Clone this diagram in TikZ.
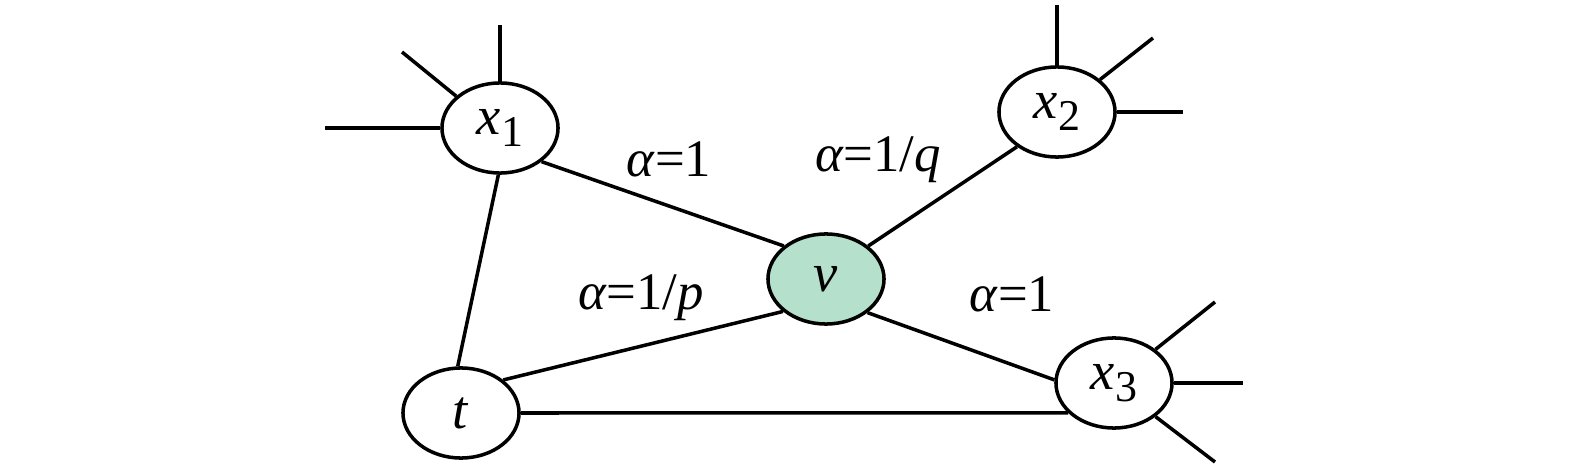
\documentclass[tikz,border=0pt]{standalone}
\usepackage{fontspec}
\setmainfont{Liberation Serif}
\usetikzlibrary{shapes.geometric}
\definecolor{vgreen}{RGB}{181,225,204}
\begin{document}
\begin{tikzpicture}[x=0.01cm,y=-0.01cm,
  vert/.style={draw,ellipse,line width=1pt,minimum width=1.16cm,minimum height=0.9cm,inner sep=0pt,font=\fontsize{15.5}{18}\selectfont},
  edge/.style={line width=1pt},
  lbl/.style={font=\fontsize{15}{18}\selectfont,inner sep=0pt,anchor=base}]
\useasboundingbox (0,0) rectangle (1575,470);
\newcommand{\sbs}[1]{\raisebox{-0.5ex}{\fontsize{12.5}{13}\selectfont #1}}
\node[vert] (x1) at (500,128) {\textit{x}\sbs{1}};
\node[vert] (x2) at (1057,112) {\textit{x}\sbs{2}};
\node[vert,fill=vgreen] (v) at (826,279) {\textit{v}};
\node[vert] (x3) at (1114,383) {\textit{x}\sbs{3}};
\node[vert] (t) at (461,413) {\textit{t}};
% stubs
\coordinate (a1) at (500,25);
\coordinate (a2) at (402,52);
\coordinate (a3) at (325,128);
\coordinate (b1) at (1057,5);
\coordinate (b2) at (1153,38);
\coordinate (b3) at (1183,112);
\coordinate (c1) at (1215,302);
\coordinate (c2) at (1243,383);
\coordinate (c3) at (1215,462);
\draw[edge] (x1.north) -- (a1);
\draw[edge] (x1.144) -- (a2);
\draw[edge] (x1.west) -- (a3);
\draw[edge] (x2.north) -- (b1);
\draw[edge] (x2.37) -- (b2);
\draw[edge] (x2.east) -- (b3);
\draw[edge] (x3.39) -- (c1);
\draw[edge] (x3.east) -- (c2);
\draw[edge] (x3.-39) -- (c3);
% edges
\draw[edge] (x1.-39) -- (v.142);
\draw[edge] (x1.-92) -- (t.94);
\draw[edge] (v.38) -- (x2.221);
\draw[edge] (t.38) -- (v.217);
\draw[edge] (v.-39) -- (x3.177);
\draw[edge] (t.east) -- (x3.213);
% labels
\node[lbl] (l1) at (669,177) {\textit{α}=1};
\node[lbl] (l2) at (878,172) {\textit{α}=1/\textit{q}};
\node[lbl] (l3) at (641,310) {\textit{α}=1/\textit{p}};
\node[lbl] (l4) at (1012,311) {\textit{α}=1};
\end{tikzpicture}
\end{document}
